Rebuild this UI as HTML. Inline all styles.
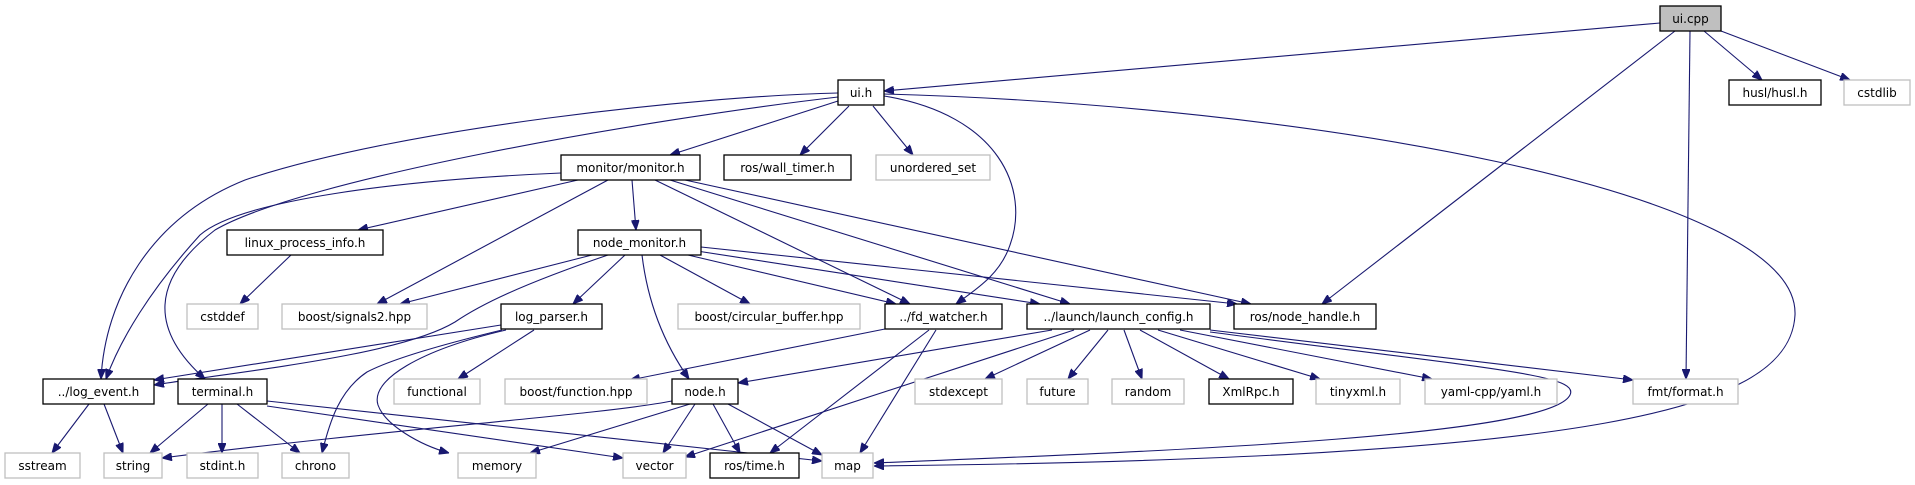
<!DOCTYPE html>
<html><head><meta charset="utf-8"><style>
html,body{margin:0;padding:0;background:#fff;}
svg{display:block;}
text{font-family:"DejaVu Sans","Liberation Sans",sans-serif;font-size:12px;fill:#000;}
.e{fill:none;stroke:#191970;stroke-width:1.1;}
.b{fill:#fff;stroke:#000;stroke-width:1.3;}
.g{fill:#fff;stroke:#bfbfbf;stroke-width:1.3;}
</style></head><body>
<svg width="1915" height="485" viewBox="0 0 1915 485" xmlns="http://www.w3.org/2000/svg">
<defs><marker id="a" markerWidth="10" markerHeight="8" refX="10" refY="4" orient="auto" markerUnits="userSpaceOnUse"><path d="M0,0 L10,4 L0,8 z" fill="#191970" stroke="#191970"/></marker></defs>
<g class="e" marker-end="url(#a)">
<path d="M1660,23 L884,91"/>
<path d="M1704,31 L1762,80"/>
<path d="M1721,31 L1850,80"/>
<path d="M1675,31 L1322,304"/>
<path d="M1690,31 L1686,379"/>
<path d="M884,94 C1300,105 1800,190 1795,315 C1790,410 1600,458 874,466"/>
<path d="M838,93 C700,96 400,128 245,180 C150,218 105,300 101,379"/>
<path d="M838,97 C640,120 300,180 215,230 C150,280 150,330 205,379"/>
<path d="M561,173 C400,180 240,200 200,235 C150,290 120,340 106,379"/>
<path d="M838,101 L670,155"/>
<path d="M849,106 L800,155"/>
<path d="M873,106 L913,155"/>
<path d="M884,96 C1000,115 1030,190 1010,245 C1000,275 975,290 956,304"/>
<path d="M578,180 L358,230"/>
<path d="M608,180 L377,304"/>
<path d="M632,180 L636,230"/>
<path d="M655,180 L910,304"/>
<path d="M670,180 L1070,304"/>
<path d="M685,180 L1251,304"/>
<path d="M291,255 L240,304"/>
<path d="M592,255 L400,304"/>
<path d="M608,255 C520,285 480,305 455,322 C400,355 250,370 154,385"/>
<path d="M625,255 L573,304"/>
<path d="M642,255 C648,305 665,345 689,379"/>
<path d="M660,255 L750,304"/>
<path d="M688,255 L896,304"/>
<path d="M697,251 L1040,304"/>
<path d="M701,247 L1237,304"/>
<path d="M501,325 L154,380"/>
<path d="M534,330 L458,379"/>
<path d="M502,330 C440,345 390,360 367,372 C340,390 330,420 322,453"/>
<path d="M506,330 C420,350 370,380 378,405 C385,425 420,445 449,453"/>
<path d="M208,404 L150,453"/>
<path d="M222,404 L222,453"/>
<path d="M237,404 L300,453"/>
<path d="M267,406 L623,458"/>
<path d="M267,401 L822,461"/>
<path d="M89,404 L52,453"/>
<path d="M104,404 L123,453"/>
<path d="M885,329 L630,380"/>
<path d="M929,330 L770,453"/>
<path d="M936,330 L860,453"/>
<path d="M1052,330 L738,383"/>
<path d="M1074,330 L685,457"/>
<path d="M1090,330 L985,379"/>
<path d="M1108,330 L1068,379"/>
<path d="M1124,330 L1142,379"/>
<path d="M1140,330 L1229,379"/>
<path d="M1158,330 L1320,379"/>
<path d="M1180,330 L1432,379"/>
<path d="M1210,330 L1633,380"/>
<path d="M1210,332 C1500,370 1580,375 1570,395 C1550,435 1200,450 874,463"/>
<path d="M672,401 C600,415 400,428 162,458"/>
<path d="M690,404 L530,453"/>
<path d="M695,404 L663,453"/>
<path d="M713,404 L740,453"/>
<path d="M728,404 L822,455"/>
</g>
<g>
<rect x="1660" y="6" width="61" height="25" fill="#bfbfbf" stroke="#000" stroke-width="1.3"/><text x="1690.5" y="23" text-anchor="middle">ui.cpp</text>
<rect class="b" x="838" y="80" width="46" height="25"/><text x="861" y="97" text-anchor="middle">ui.h</text>
<rect class="b" x="1729" y="80" width="92" height="25"/><text x="1775" y="97" text-anchor="middle">husl/husl.h</text>
<rect class="g" x="1844" y="80" width="66" height="25"/><text x="1877" y="97" text-anchor="middle">cstdlib</text>
<rect class="b" x="561" y="155" width="139" height="25"/><text x="630.5" y="172" text-anchor="middle">monitor/monitor.h</text>
<rect class="b" x="724" y="155" width="127" height="25"/><text x="787.5" y="172" text-anchor="middle">ros/wall_timer.h</text>
<rect class="g" x="876" y="155" width="114" height="25"/><text x="933" y="172" text-anchor="middle">unordered_set</text>
<rect class="b" x="227" y="230" width="156" height="25"/><text x="305" y="247" text-anchor="middle">linux_process_info.h</text>
<rect class="b" x="578" y="230" width="123" height="25"/><text x="639.5" y="247" text-anchor="middle">node_monitor.h</text>
<rect class="g" x="187" y="304" width="71" height="25"/><text x="222.5" y="321" text-anchor="middle">cstddef</text>
<rect class="g" x="282" y="304" width="145" height="25"/><text x="354.5" y="321" text-anchor="middle">boost/signals2.hpp</text>
<rect class="b" x="501" y="304" width="101" height="25"/><text x="551.5" y="321" text-anchor="middle">log_parser.h</text>
<rect class="g" x="678" y="304" width="182" height="25"/><text x="769" y="321" text-anchor="middle">boost/circular_buffer.hpp</text>
<rect class="b" x="885" y="304" width="117" height="25"/><text x="943.5" y="321" text-anchor="middle">../fd_watcher.h</text>
<rect class="b" x="1027" y="304" width="183" height="25"/><text x="1118.5" y="321" text-anchor="middle">../launch/launch_config.h</text>
<rect class="b" x="1234" y="304" width="142" height="25"/><text x="1305" y="321" text-anchor="middle">ros/node_handle.h</text>
<rect class="b" x="43" y="379" width="111" height="25"/><text x="98.5" y="396" text-anchor="middle">../log_event.h</text>
<rect class="b" x="178" y="379" width="89" height="25"/><text x="222.5" y="396" text-anchor="middle">terminal.h</text>
<rect class="g" x="394" y="379" width="86" height="25"/><text x="437" y="396" text-anchor="middle">functional</text>
<rect class="g" x="505" y="379" width="142" height="25"/><text x="576" y="396" text-anchor="middle">boost/function.hpp</text>
<rect class="b" x="672" y="379" width="66" height="25"/><text x="705" y="396" text-anchor="middle">node.h</text>
<rect class="g" x="915" y="379" width="87" height="25"/><text x="958.5" y="396" text-anchor="middle">stdexcept</text>
<rect class="g" x="1027" y="379" width="61" height="25"/><text x="1057.5" y="396" text-anchor="middle">future</text>
<rect class="g" x="1112" y="379" width="72" height="25"/><text x="1148" y="396" text-anchor="middle">random</text>
<rect class="b" x="1209" y="379" width="84" height="25"/><text x="1251" y="396" text-anchor="middle">XmlRpc.h</text>
<rect class="g" x="1316" y="379" width="84" height="25"/><text x="1358" y="396" text-anchor="middle">tinyxml.h</text>
<rect class="g" x="1425" y="379" width="132" height="25"/><text x="1491" y="396" text-anchor="middle">yaml-cpp/yaml.h</text>
<rect class="g" x="1633" y="379" width="105" height="25"/><text x="1685.5" y="396" text-anchor="middle">fmt/format.h</text>
<rect class="g" x="5" y="453" width="75" height="25"/><text x="42.5" y="470" text-anchor="middle">sstream</text>
<rect class="g" x="104" y="453" width="58" height="25"/><text x="133" y="470" text-anchor="middle">string</text>
<rect class="g" x="187" y="453" width="71" height="25"/><text x="222.5" y="470" text-anchor="middle">stdint.h</text>
<rect class="g" x="282" y="453" width="67" height="25"/><text x="315.5" y="470" text-anchor="middle">chrono</text>
<rect class="g" x="458" y="453" width="78" height="25"/><text x="497" y="470" text-anchor="middle">memory</text>
<rect class="g" x="623" y="453" width="63" height="25"/><text x="654.5" y="470" text-anchor="middle">vector</text>
<rect class="b" x="710" y="453" width="89" height="25"/><text x="754.5" y="470" text-anchor="middle">ros/time.h</text>
<rect class="g" x="822" y="453" width="51" height="25"/><text x="847.5" y="470" text-anchor="middle">map</text>
</g>
</svg>
</body></html>
